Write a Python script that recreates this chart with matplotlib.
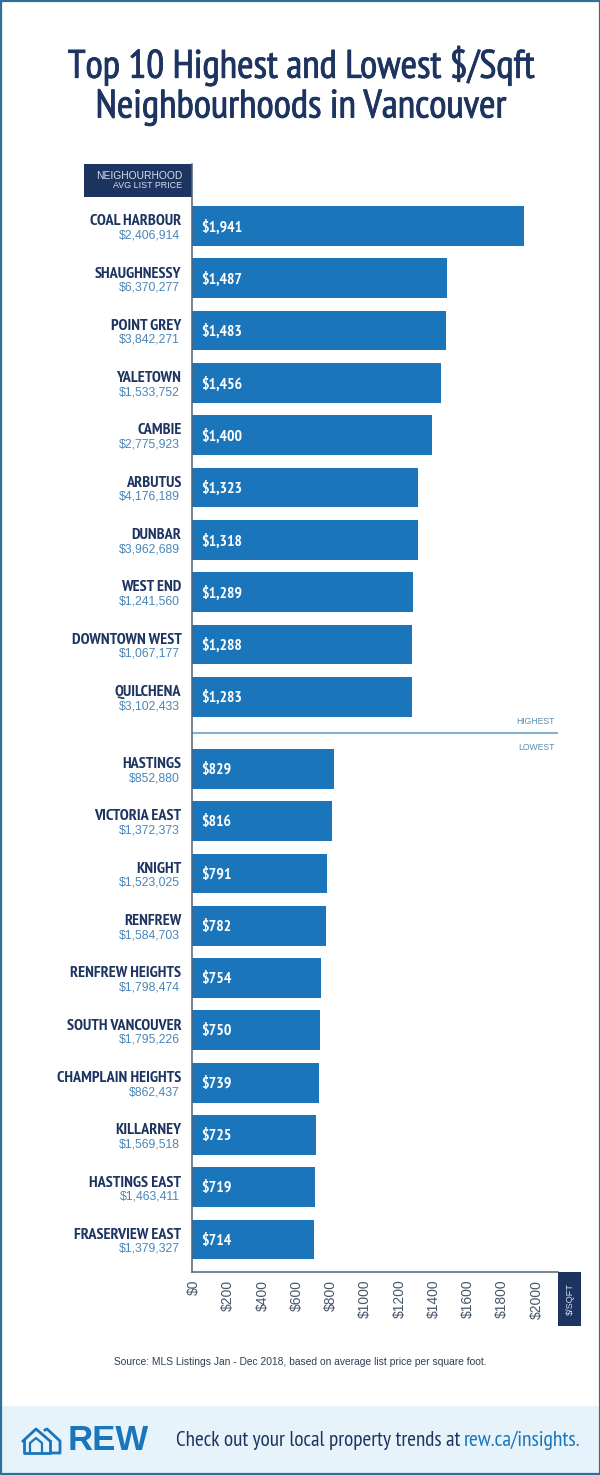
# Top 10 Highest and Lowest $/Sqft Template

# Importing the libraries
import numpy as np
import matplotlib.pyplot as plt
import matplotlib.patheffects as path_effects
import matplotlib.transforms as mtransforms
import pandas as pd

# Colours and fonts
navy = '#1d3461'
blue = '#1b75bb'
narrow = ['PT Sans Narrow', 'Roboto', 'Liberation Sans']
plain = ['Liberation Sans']
heavier = [path_effects.withStroke(linewidth=0.6, foreground=navy)]

# Importing the dataset
dataset = pd.DataFrame({
    'name': ['COAL HARBOUR', 'SHAUGHNESSY', 'POINT GREY', 'YALETOWN', 'CAMBIE',
             'ARBUTUS', 'DUNBAR', 'WEST END', 'DOWNTOWN WEST', 'QUILCHENA',
             'HASTINGS', 'VICTORIA EAST', 'KNIGHT', 'RENFREW', 'RENFREW HEIGHTS',
             'SOUTH VANCOUVER', 'CHAMPLAIN HEIGHTS', 'KILLARNEY', 'HASTINGS EAST',
             'FRASERVIEW EAST'],
    'price': ['$2,406,914', '$6,370,277', '$3,842,271', '$1,533,752', '$2,775,923',
              '$4,176,189', '$3,962,689', '$1,241,560', '$1,067,177', '$3,102,433',
              '$852,880', '$1,372,373', '$1,523,025', '$1,584,703', '$1,798,474',
              '$1,795,226', '$862,437', '$1,569,518', '$1,463,411', '$1,379,327'],
    'sqft': [1941, 1487, 1483, 1456, 1400, 1323, 1318, 1289, 1288, 1283,
             829, 816, 791, 782, 754, 750, 739, 725, 719, 714]})
X = np.r_[np.arange(10), np.arange(10) + 10.38]
y = dataset.iloc[:, 2].values

# Page furniture, in pixels of the page
plt.figure(figsize=(6, 14.75), dpi=100)
plt.axes([0, 0, 1, 1])
plt.xlim(0, 600)
plt.ylim(1475, 0)
plt.axis('off')
plt.fill_between([0, 600], 1406, 1475, color='#e6f3fb', lw=0)
plt.fill_between([84, 192], 164, 196.5, color=navy, lw=0)
plt.fill_between([558, 581], 1272, 1325.5, color=navy, lw=0)
plt.plot([0.5, 599.5, 599.5, 0.5, 0.5], [0.5, 0.5, 1474, 1474, 0.5], color='#2c7199', lw=1.6)
plt.text(301, 65, 'Top 10 Highest and Lowest $/Sqft', color=navy, fontsize=28.6,
         family=narrow, ha='center', va='center', path_effects=heavier)
plt.text(301, 107, 'Neighbourhoods in Vancouver', color=navy, fontsize=28.6,
         family=narrow, ha='center', va='center', path_effects=heavier)
plt.text(182, 176, 'NEIGHOURHOOD', color='#d5dfec', fontsize=7.4, family=plain, ha='right', va='center')
plt.text(182, 186, 'AVG LIST PRICE', color='#d5dfec', fontsize=6.4, family=plain, ha='right', va='center')
plt.text(570, 1299, '$/SQFT', color='#d5dfec', fontsize=6.6, family=plain, rotation=90,
         ha='center', va='center')
plt.text(555, 722, 'HIGHEST', color='#5b8db0', fontsize=6.2, family=plain, ha='right', va='center')
plt.text(555, 747, 'LOWEST', color='#5b8db0', fontsize=6.2, family=plain, ha='right', va='center')
plt.text(300.5, 1362, 'Source: MLS Listings Jan - Dec 2018, based on average list price per square foot.',
         color='#2e4057', fontsize=7.35, family=plain, ha='center', va='center')
plt.text(176, 1440, 'Check out your local property trends at', color=navy, fontsize=15.25,
         family=narrow, ha='left', va='center')
plt.text(580, 1440, 'rew.ca/insights.', color=blue, fontsize=15.7, family=narrow, ha='right', va='center')
plt.text(68, 1441, 'REW', color=blue, fontsize=25, family=plain, weight='bold', ha='left', va='center')

# The logo
plt.plot([23, 36, 50], [1441, 1429, 1441], color=blue, lw=2)
plt.plot([24, 24, 50, 50], [1441, 1453, 1453, 1441], color=blue, lw=2)
plt.plot([30, 30, 36, 42, 42], [1453, 1443, 1438, 1443, 1453], color=blue, lw=1.6)
plt.plot([45, 47, 60, 60, 52], [1430, 1429, 1441, 1453, 1453], color=blue, lw=2)

# Visualizing the results
plt.axes([192 / 600, 1 - 1272 / 1475, 366 / 600, 1108 / 1475], facecolor='none')
plt.barh(X, y, height=0.76, color=blue)
plt.xlim(0, 2138)
plt.ylim(20, -1.185)
plt.axhline(9.69, color='#7fb3d0', lw=1.5)
for i in range(len(y)):
    plt.text(55, X[i] + 0.02, '${:,}'.format(y[i]), color='white', fontsize=11.3, family=narrow,
             weight='bold', ha='left', va='center')
    plt.text(-62, X[i] - 0.09, dataset['name'][i], color=navy, fontsize=11.6, family=narrow,
             weight='bold', ha='right', va='center', clip_on=False)
    plt.text(-70, X[i] + 0.18, dataset['price'][i], color='#4a86b8', fontsize=8.8, family=plain,
             ha='right', va='center', clip_on=False)
plt.xticks(np.arange(0, 2001, 200), ['$' + str(t) for t in range(0, 2001, 200)], rotation=90,
           color='#46566a', fontsize=10, family=plain)
plt.tick_params(axis='x', length=0, pad=5.5)
shift = mtransforms.ScaledTranslation(2 / 100, 0, plt.gcf().dpi_scale_trans)
for label in plt.gca().get_xticklabels():
    label.set_transform(label.get_transform() + shift)
plt.yticks([])
plt.gca().spines['top'].set_visible(False)
plt.gca().spines['right'].set_visible(False)
plt.gca().spines['left'].set_color('#4f6478')
plt.gca().spines['bottom'].set_color('#4f6478')
plt.gca().spines['left'].set_linewidth(1.1)
plt.gca().spines['bottom'].set_linewidth(1.1)
plt.savefig('out.png', dpi=100)
